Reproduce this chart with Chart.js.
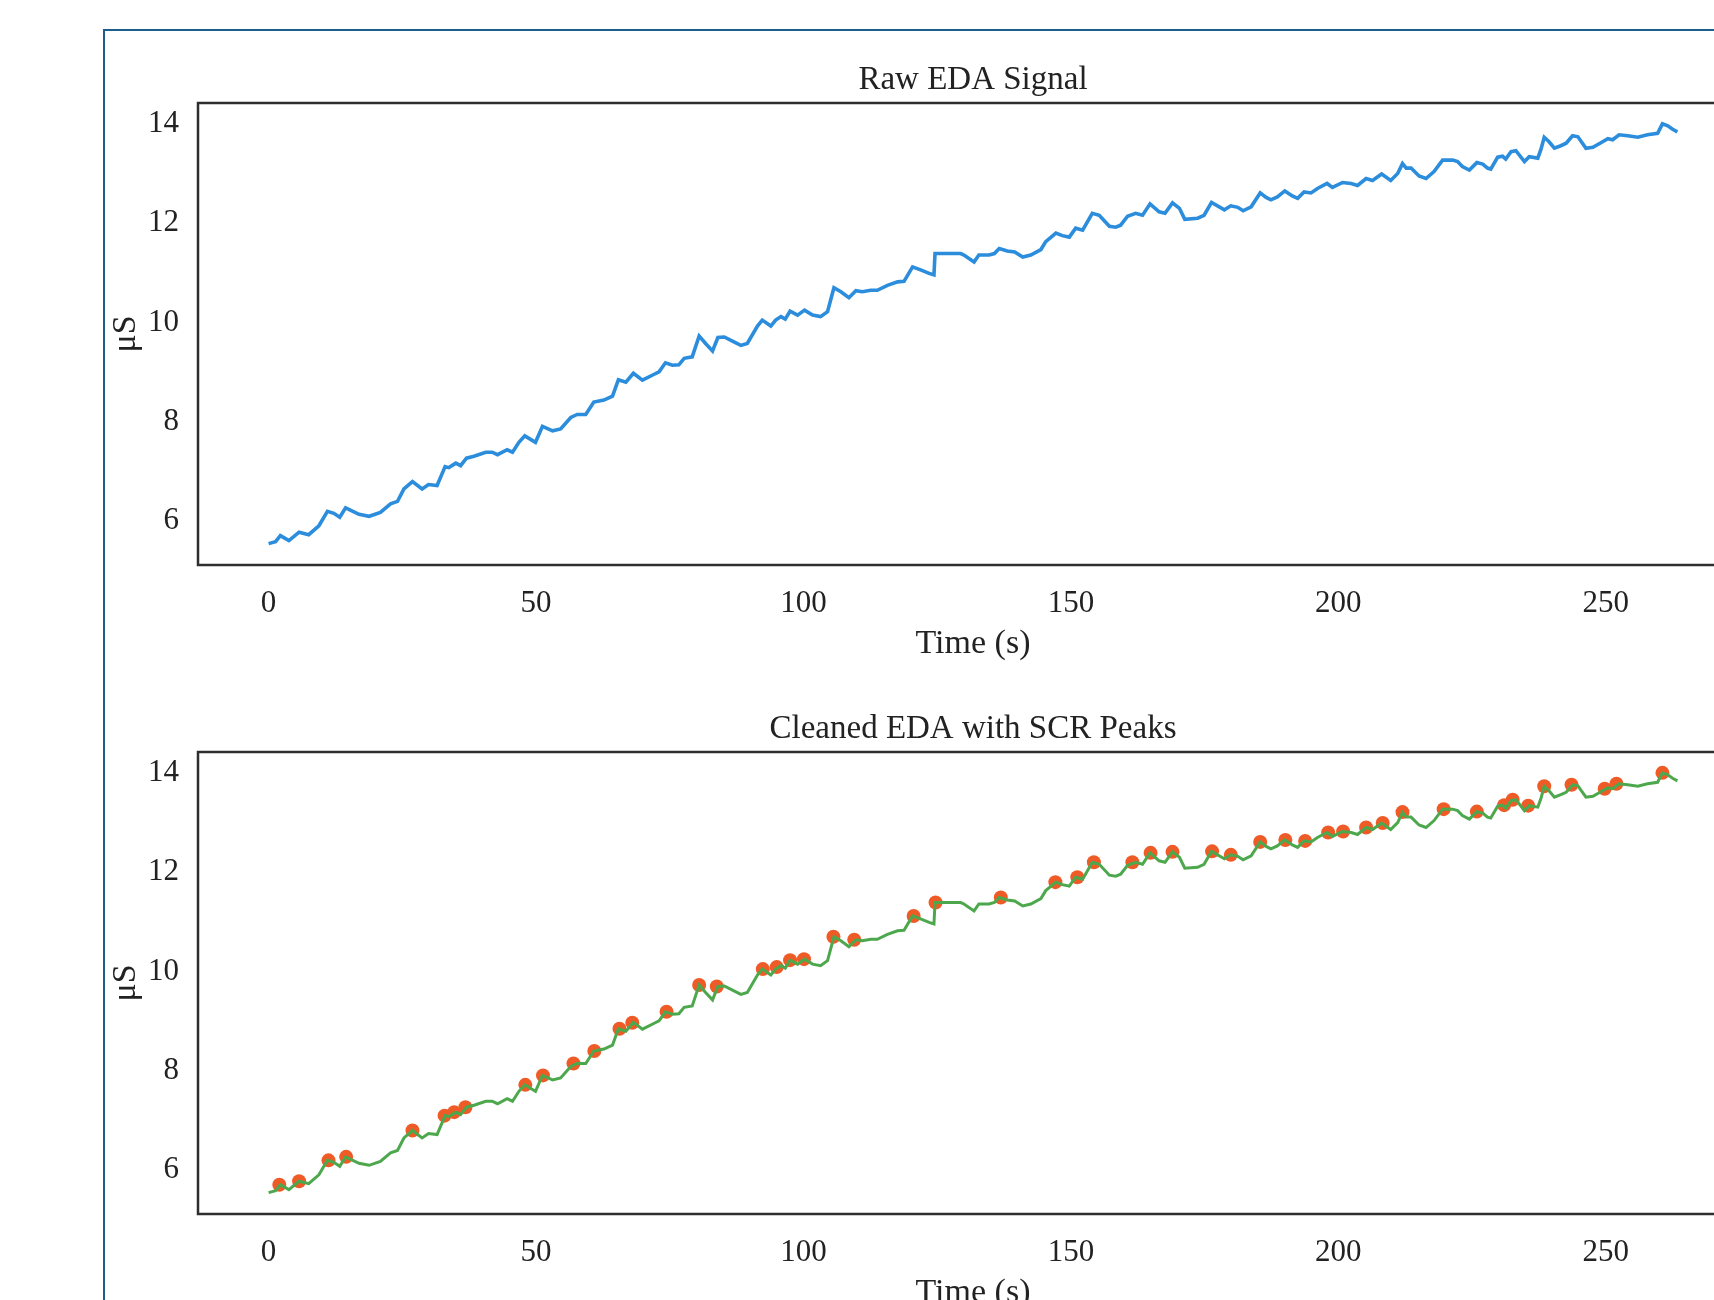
<!DOCTYPE html>
<html>
<head>
<meta charset="utf-8">
<title>EDA Signal</title>
<script src="https://cdn.jsdelivr.net/npm/chart.js@4.4.0/dist/chart.umd.min.js"></script>
<style>
    html, body { margin: 0; padding: 0; background: #ffffff; overflow: hidden; width: 1714px; height: 1300px; }
    #frame { position: absolute; left: 103px; top: 29px; width: 1700px; height: 1400px; border: 2px solid #1b5e8c; box-sizing: border-box; }
    .panel { position: absolute; left: 104px; }
    #rawPanel { top: 30px; }
    #cleanPanel { top: 679px; }
</style>
</head>
<body>
<div id="frame"></div>
<div class="panel" id="rawPanel"><canvas id="rawChart" width="1644" height="634"></canvas></div>
<div class="panel" id="cleanPanel"><canvas id="cleanChart" width="1644" height="634"></canvas></div>
<script>
// Datos (tiempo en s, conductancia en µS)
const edaTime = [
    0.0, 1.3, 2.2, 3.8, 5.7, 7.5, 9.4, 11.0, 12.2, 13.3, 14.4, 16.9, 18.8, 20.9, 22.8, 24.1, 25.3, 26.9, 28.7, 29.9,
    31.5, 33.0, 33.7, 35.0, 35.9, 37.0, 38.4, 40.6, 41.8, 42.8, 44.6, 45.6, 46.8, 47.9, 49.9, 51.2, 53.1, 54.6, 56.5, 57.7,
    59.3, 60.8, 62.7, 64.3, 65.4, 66.8, 68.2, 69.9, 72.1, 73.0, 74.2, 75.5, 76.7, 77.7, 79.2, 80.5, 81.7, 83.0, 84.0, 85.2,
    87.0, 88.3, 89.5, 91.4, 92.3, 93.9, 94.8, 95.8, 96.6, 97.5, 98.9, 100.2, 101.7, 103.2, 104.5, 105.7, 107.0, 108.5, 109.8, 111.0,
    112.6, 113.8, 115.7, 117.6, 118.8, 120.4, 121.9, 123.5, 124.4, 124.6, 129.4, 130.0, 131.9, 132.8, 134.7, 135.7, 136.6, 138.1, 139.5, 141.0,
    142.5, 144.4, 145.3, 147.2, 148.4, 149.7, 150.9, 152.2, 154.0, 155.3, 157.2, 158.4, 159.3, 160.6, 162.1, 163.4, 164.8, 166.5, 167.6, 169.0,
    170.3, 171.3, 173.7, 174.9, 176.3, 178.7, 179.9, 181.2, 182.2, 183.7, 185.4, 186.5, 187.4, 188.6, 190.0, 191.4, 192.4, 193.6, 194.9, 196.1,
    197.9, 198.9, 200.8, 202.4, 203.6, 205.2, 206.4, 208.1, 209.8, 211.1, 212.0, 212.7, 213.6, 215.1, 216.4, 217.9, 219.5, 221.4, 222.3, 223.2,
    224.5, 225.9, 227.0, 227.9, 228.5, 229.8, 230.7, 231.3, 232.3, 233.2, 234.8, 235.7, 237.3, 237.9, 238.5, 239.4, 240.4, 241.6, 242.6, 243.8,
    244.8, 246.3, 247.6, 249.1, 250.4, 251.3, 252.5, 254.1, 256.0, 257.8, 259.7, 260.6, 261.6, 262.5, 263.4
];
const edaRaw = [
    5.49, 5.53, 5.65, 5.55, 5.72, 5.67, 5.85, 6.14, 6.10, 6.02, 6.21, 6.08, 6.04, 6.12, 6.29, 6.34, 6.59, 6.74, 6.59, 6.68,
    6.66, 7.04, 7.02, 7.11, 7.06, 7.21, 7.25, 7.33, 7.33, 7.28, 7.38, 7.33, 7.53, 7.66, 7.53, 7.85, 7.76, 7.80, 8.03, 8.09,
    8.09, 8.34, 8.38, 8.46, 8.79, 8.74, 8.92, 8.78, 8.90, 8.95, 9.13, 9.08, 9.09, 9.22, 9.25, 9.67, 9.52, 9.37, 9.64, 9.65,
    9.55, 9.48, 9.52, 9.87, 9.99, 9.87, 9.99, 10.06, 10.01, 10.17, 10.09, 10.19, 10.09, 10.06, 10.16, 10.64, 10.56, 10.44, 10.58, 10.56,
    10.59, 10.59, 10.69, 10.76, 10.77, 11.06, 11.00, 10.93, 10.90, 11.33, 11.33, 11.30, 11.16, 11.30, 11.30, 11.33, 11.43, 11.38, 11.36, 11.26,
    11.30, 11.41, 11.57, 11.74, 11.69, 11.66, 11.84, 11.80, 12.14, 12.10, 11.88, 11.86, 11.90, 12.08, 12.14, 12.10, 12.33, 12.17, 12.14, 12.35,
    12.24, 12.02, 12.04, 12.10, 12.36, 12.21, 12.29, 12.26, 12.19, 12.27, 12.55, 12.46, 12.41, 12.47, 12.59, 12.49, 12.44, 12.57, 12.55, 12.64,
    12.74, 12.66, 12.76, 12.74, 12.70, 12.84, 12.80, 12.93, 12.80, 12.94, 13.14, 13.05, 13.05, 12.89, 12.84, 12.98, 13.21, 13.21, 13.18, 13.08,
    13.01, 13.16, 13.13, 13.05, 13.03, 13.27, 13.29, 13.23, 13.38, 13.40, 13.18, 13.28, 13.25, 13.43, 13.67, 13.58, 13.45, 13.50, 13.55, 13.70,
    13.68, 13.45, 13.47, 13.56, 13.64, 13.62, 13.72, 13.70, 13.67, 13.72, 13.75, 13.94, 13.90, 13.83, 13.78
];
// La señal limpia se ve igual que la cruda en el gráfico
const edaClean = edaRaw.slice();

// Picos SCR detectados
const peakTime = [
    2.0, 5.7, 11.2, 14.5, 26.9, 32.9, 34.7, 36.8, 48.0, 51.3, 57.0, 60.9, 65.6, 68.0, 74.4, 80.5, 83.8, 92.4, 95.0, 97.5,
    100.1, 105.6, 109.5, 120.6, 124.7, 136.9, 147.1, 151.2, 154.3, 161.5, 164.9, 169.0, 176.4, 179.9, 185.4, 190.1, 193.8, 198.1, 200.9, 205.2,
    208.3, 212.0, 219.7, 225.9, 231.0, 232.6, 235.5, 238.5, 243.6, 249.8, 252.0, 260.6
];
const peakValue = [
    5.65, 5.72, 6.14, 6.21, 6.74, 7.04, 7.11, 7.21, 7.66, 7.85, 8.09, 8.34, 8.79, 8.91, 9.13, 9.67, 9.64, 9.99, 10.03, 10.17,
    10.19, 10.64, 10.58, 11.06, 11.33, 11.43, 11.74, 11.84, 12.14, 12.14, 12.33, 12.35, 12.36, 12.29, 12.55, 12.59, 12.57, 12.74, 12.76, 12.84,
    12.93, 13.15, 13.21, 13.16, 13.29, 13.40, 13.28, 13.67, 13.70, 13.62, 13.72, 13.94
];

// Etiquetas de los ejes
const xTicks = [0, 50, 100, 150, 200, 250];
const yTicks = [6, 8, 10, 12, 14];
const xRange = [-13.2, 276.6];
const yRange = [5.06, 14.36];

const serif = "'Liberation Serif', 'Times New Roman', serif";
const textColor = '#222222';

// Marco negro alrededor del área del gráfico
const boxPlugin = {
    id: 'plotBox',
    afterDatasetsDraw(chart) {
        const a = chart.chartArea;
        const ctx = chart.ctx;
        ctx.save();
        ctx.strokeStyle = '#2e2e2e';
        ctx.lineWidth = 2.5;
        ctx.strokeRect(a.left, a.top, a.right - a.left, a.bottom - a.top);
        ctx.restore();
    }
};

function toPoints(xs, ys) {
    return xs.map((x, i) => ({ x: x, y: ys[i] }));
}

function baseOptions(title) {
    return {
        responsive: false,
        animation: false,
        layout: { padding: 0, autoPadding: false },
        plugins: {
            legend: { display: false },
            tooltip: { enabled: false },
            title: {
                display: true,
                fullSize: false,
                text: title,
                color: textColor,
                font: { family: serif, size: 33, weight: 'normal' },
                padding: { top: 31, bottom: 2.4 }
            }
        },
        scales: {
            x: {
                type: 'linear',
                min: xRange[0],
                max: xRange[1],
                grid: { display: false, drawTicks: false },
                border: { display: false },
                afterBuildTicks: scale => { scale.ticks = xTicks.map(v => ({ value: v })); },
                afterFit: scale => { scale.height = 99; },
                ticks: {
                    autoSkip: false,
                    maxRotation: 0,
                    padding: 20,
                    color: textColor,
                    font: { family: serif, size: 31 }
                },
                title: {
                    display: true,
                    text: 'Time (s)',
                    color: textColor,
                    font: { family: serif, size: 34 },
                    padding: { top: 0, bottom: 0 }
                }
            },
            y: {
                type: 'linear',
                min: yRange[0],
                max: yRange[1],
                grid: { display: false, drawTicks: false },
                border: { display: false },
                afterBuildTicks: scale => { scale.ticks = yTicks.map(v => ({ value: v })); },
                afterFit: scale => { scale.width = 94; },
                ticks: {
                    autoSkip: false,
                    padding: 19,
                    labelOffset: 3,
                    color: textColor,
                    font: { family: serif, size: 31 }
                },
                title: {
                    display: true,
                    text: 'μS',
                    color: textColor,
                    font: { family: serif, size: 34 },
                    padding: { top: 2, bottom: 0 }
                }
            }
        }
    };
}

document.addEventListener('DOMContentLoaded', function() {
    // Señal cruda
    new Chart(document.getElementById('rawChart').getContext('2d'), {
        type: 'line',
        data: {
            datasets: [{
                label: 'Raw EDA',
                data: toPoints(edaTime, edaRaw),
                borderColor: '#2b8ddb',
                borderWidth: 3.6,
                pointRadius: 0,
                tension: 0,
                fill: false
            }]
        },
        options: baseOptions('Raw EDA Signal'),
        plugins: [boxPlugin]
    });

    // Señal limpia con picos SCR (la línea se dibuja encima de los puntos)
    new Chart(document.getElementById('cleanChart').getContext('2d'), {
        type: 'line',
        data: {
            datasets: [{
                label: 'Cleaned EDA',
                data: toPoints(edaTime, edaClean),
                borderColor: '#4da84d',
                borderWidth: 3,
                pointRadius: 0,
                tension: 0,
                fill: false
            }, {
                type: 'scatter',
                label: 'SCR Peaks',
                data: toPoints(peakTime, peakValue),
                backgroundColor: '#ef5b27',
                borderWidth: 0,
                pointRadius: 7,
                showLine: false
            }]
        },
        options: baseOptions('Cleaned EDA with SCR Peaks'),
        plugins: [boxPlugin]
    });
});
</script>
</body>
</html>
